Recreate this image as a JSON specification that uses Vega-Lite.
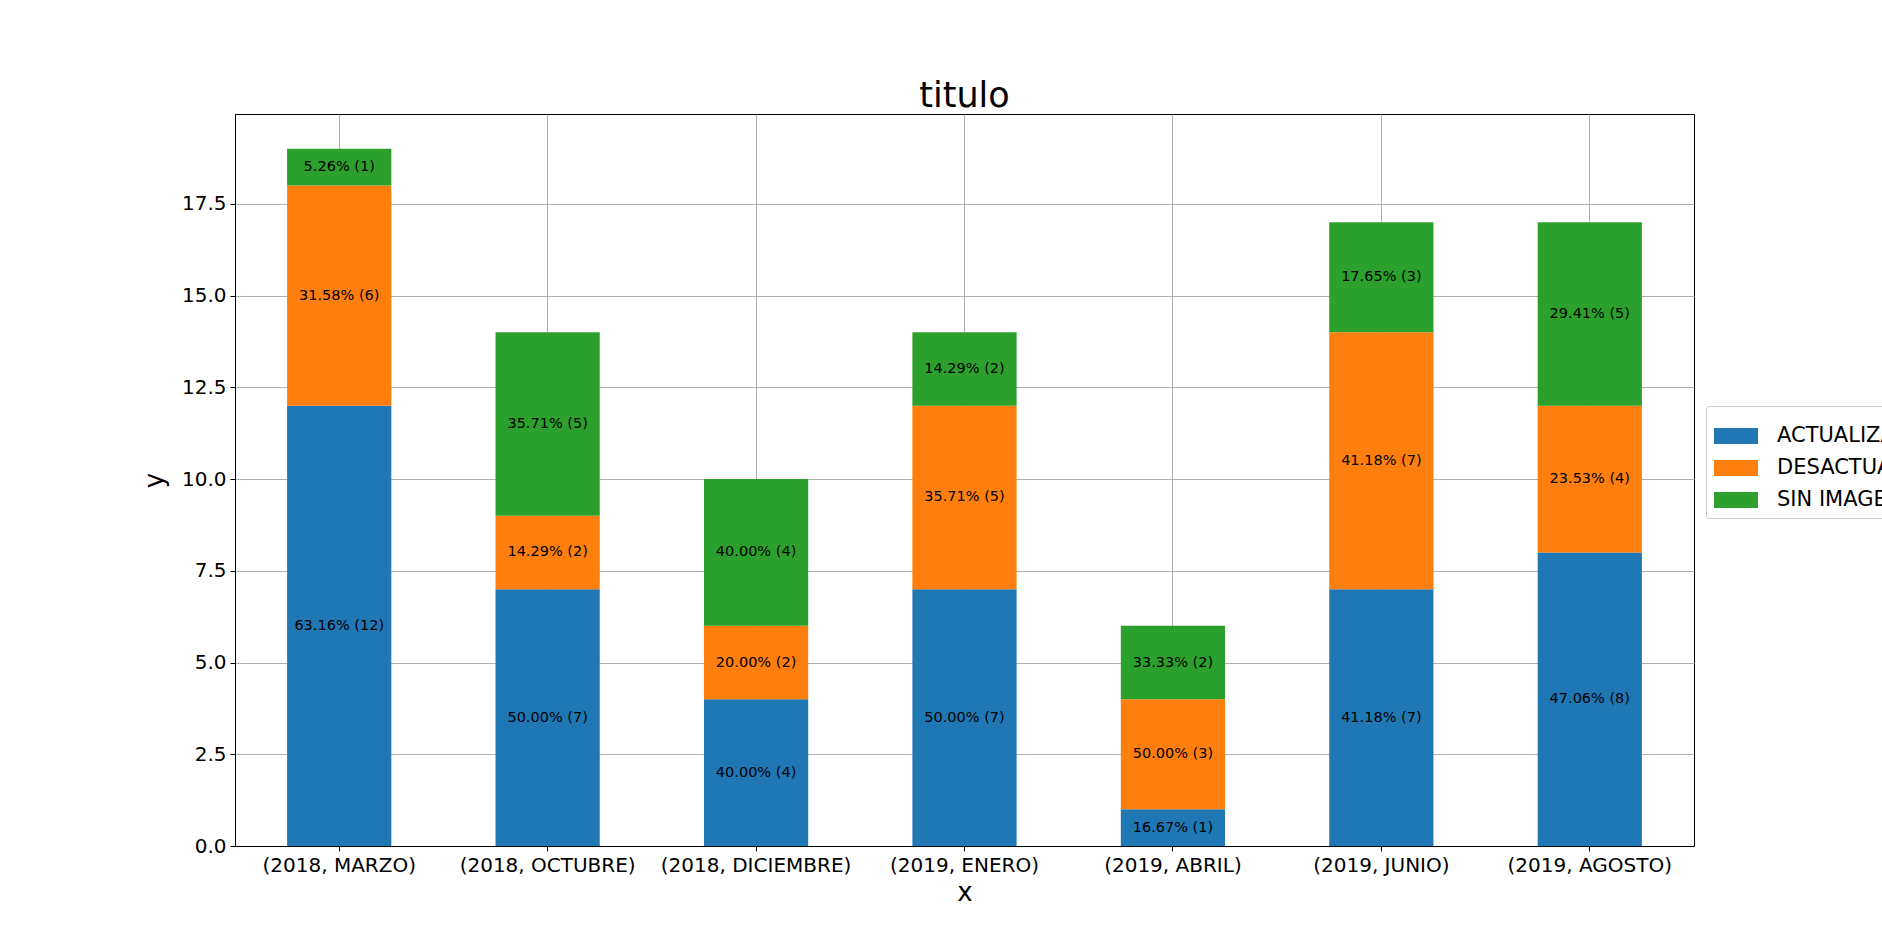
{
  "$schema": "https://vega.github.io/schema/vega-lite/v6.json",
  "width": 1459,
  "height": 732,
  "autosize": {"type": "none"},
  "padding": {"left": 235, "top": 114, "right": 188, "bottom": 105},
  "background": "white",
  "config": {
    "font": "DejaVu Sans",
    "view": {"stroke": "black", "strokeWidth": 1},
    "axis": {
      "labelColor": "black",
      "labelFont": "DejaVu Sans",
      "labelFontSize": 20,
      "labelLimit": 0,
      "tickColor": "black",
      "tickSize": 5,
      "domainColor": "black",
      "domainWidth": 1,
      "gridColor": "#b0b0b0",
      "gridWidth": 1,
      "titleFont": "DejaVu Sans",
      "titleFontSize": 26,
      "titleFontWeight": "normal",
      "titleColor": "black",
      "zindex": 1
    }
  },
  "title": {
    "text": "titulo",
    "fontSize": 35,
    "font": "DejaVu Sans",
    "fontWeight": "normal",
    "color": "black",
    "anchor": "middle",
    "baseline": "alphabetic",
    "offset": 7,
    "dy": 35
  },
  "data": {
    "values": [
      {"x": "(2018, MARZO)", "estado": "ACTUALIZADO", "n": 12, "label": "63.16% (12)"},
      {"x": "(2018, MARZO)", "estado": "DESACTUALIZADO", "n": 6, "label": "31.58% (6)"},
      {"x": "(2018, MARZO)", "estado": "SIN IMAGEN", "n": 1, "label": "5.26% (1)"},
      {"x": "(2018, OCTUBRE)", "estado": "ACTUALIZADO", "n": 7, "label": "50.00% (7)"},
      {"x": "(2018, OCTUBRE)", "estado": "DESACTUALIZADO", "n": 2, "label": "14.29% (2)"},
      {"x": "(2018, OCTUBRE)", "estado": "SIN IMAGEN", "n": 5, "label": "35.71% (5)"},
      {"x": "(2018, DICIEMBRE)", "estado": "ACTUALIZADO", "n": 4, "label": "40.00% (4)"},
      {"x": "(2018, DICIEMBRE)", "estado": "DESACTUALIZADO", "n": 2, "label": "20.00% (2)"},
      {"x": "(2018, DICIEMBRE)", "estado": "SIN IMAGEN", "n": 4, "label": "40.00% (4)"},
      {"x": "(2019, ENERO)", "estado": "ACTUALIZADO", "n": 7, "label": "50.00% (7)"},
      {"x": "(2019, ENERO)", "estado": "DESACTUALIZADO", "n": 5, "label": "35.71% (5)"},
      {"x": "(2019, ENERO)", "estado": "SIN IMAGEN", "n": 2, "label": "14.29% (2)"},
      {"x": "(2019, ABRIL)", "estado": "ACTUALIZADO", "n": 1, "label": "16.67% (1)"},
      {"x": "(2019, ABRIL)", "estado": "DESACTUALIZADO", "n": 3, "label": "50.00% (3)"},
      {"x": "(2019, ABRIL)", "estado": "SIN IMAGEN", "n": 2, "label": "33.33% (2)"},
      {"x": "(2019, JUNIO)", "estado": "ACTUALIZADO", "n": 7, "label": "41.18% (7)"},
      {"x": "(2019, JUNIO)", "estado": "DESACTUALIZADO", "n": 7, "label": "41.18% (7)"},
      {"x": "(2019, JUNIO)", "estado": "SIN IMAGEN", "n": 3, "label": "17.65% (3)"},
      {"x": "(2019, AGOSTO)", "estado": "ACTUALIZADO", "n": 8, "label": "47.06% (8)"},
      {"x": "(2019, AGOSTO)", "estado": "DESACTUALIZADO", "n": 4, "label": "23.53% (4)"},
      {"x": "(2019, AGOSTO)", "estado": "SIN IMAGEN", "n": 5, "label": "29.41% (5)"}
    ]
  },
  "transform": [
    {"stack": "n", "groupby": ["x"], "sort": [{"field": "estado", "order": "ascending"}], "as": ["y0", "y1"]},
    {"calculate": "(datum.y0 + datum.y1) / 2", "as": "ymid"}
  ],
  "encoding": {
    "x": {
      "field": "x",
      "type": "nominal",
      "sort": null,
      "scale": {"paddingInner": 0.5, "paddingOuter": 0.25},
      "axis": {"title": "x", "labelAngle": 0, "labelPadding": 4, "titlePadding": 4, "grid": true}
    }
  },
  "layer": [
    {
      "mark": {"type": "bar"},
      "encoding": {
        "y": {
          "field": "y0",
          "type": "quantitative",
          "scale": {"domain": [0, 19.95], "nice": false, "zero": true},
          "axis": {
            "title": "y",
            "values": [0, 2.5, 5, 7.5, 10, 12.5, 15, 17.5],
            "format": ".1f",
            "labelPadding": 4,
            "titlePadding": 14,
            "grid": true
          }
        },
        "y2": {"field": "y1"},
        "color": {
          "field": "estado",
          "type": "nominal",
          "scale": {"domain": ["ACTUALIZADO", "DESACTUALIZADO", "SIN IMAGEN"], "range": ["#1f77b4", "#ff7f0e", "#2ca02c"]},
          "legend": {
            "title": null,
            "orient": "none",
            "legendX": 1471,
            "legendY": 292,
            "labelFontSize": 21,
            "labelFont": "DejaVu Sans",
            "labelColor": "black",
            "symbolType": "M-1,-0.364H1V0.364H-1Z",
            "symbolSize": 1936,
            "symbolStrokeWidth": 0,
            "symbolOpacity": 1,
            "labelOffset": 19,
            "rowPadding": -1,
            "padding": 8,
            "strokeColor": "#cccccc",
            "cornerRadius": 3,
            "fillColor": "white"
          }
        }
      }
    },
    {
      "mark": {"type": "text", "fontSize": 14.5, "color": "black", "align": "center", "baseline": "middle", "font": "DejaVu Sans"},
      "encoding": {
        "y": {"field": "ymid", "type": "quantitative"},
        "text": {"field": "label"}
      }
    }
  ]
}
